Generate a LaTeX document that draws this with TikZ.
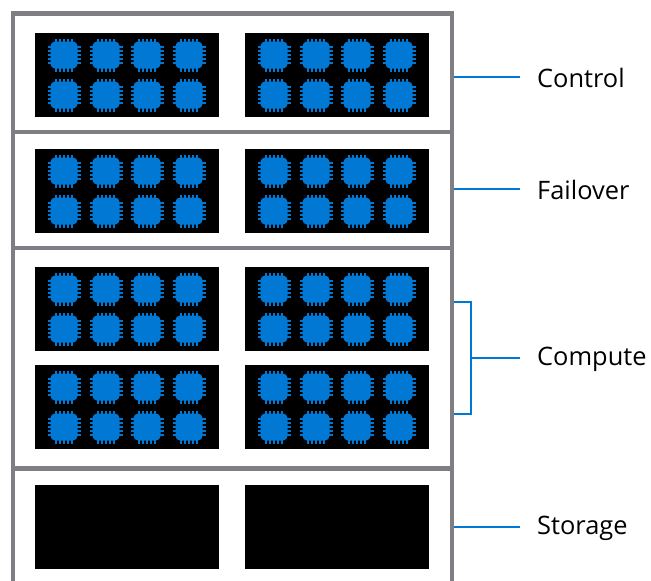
\documentclass[tikz,border=0pt]{standalone}
\usepackage{fontspec}
\setmainfont{Open Sans}
\definecolor{chipblue}{HTML}{0078D4}
\definecolor{framegray}{HTML}{7F7F83}
\tikzset{
  rackline/.style={draw=framegray,line width=4.4pt},
  tray/.style={fill=black,draw=none,minimum width=184pt,minimum height=84pt,inner sep=0pt,anchor=north west},
  leader/.style={draw=chipblue,line width=2pt},
  tag/.style={font=\fontsize{25.4pt}{30pt}\selectfont,anchor=west,inner sep=0pt,text=black},
  chip/.pic={
    \fill[chipblue,rounded corners=4.5pt] (-13.5,-13.5) rectangle (13.5,13.5);
    \foreach \p in {-8,-4,0,4,8}{
      \fill[chipblue] (\p-0.8,-16.5) rectangle (\p+0.8,16.5);
      \fill[chipblue] (-16.5,\p-0.8) rectangle (16.5,\p+0.8);
    }
  }
}
\newcommand{\traychips}[3]{%
  \node[tray] (#1) at (#2,#3) {};
  \foreach \dx in {29,71,112,154}\foreach \dy in {22,62}{
    \pic at (#2+\dx,#3+\dy) {chip};
  }%
}
\begin{document}
\begin{tikzpicture}[x=1pt,y=-1pt]
\useasboundingbox (0,0) rectangle (651,581);
\fill[white] (0,0) rectangle (651,581);
% rack
\coordinate (tl) at (13,13.5); \coordinate (tr) at (452,13.5);
\coordinate (bl) at (13,581); \coordinate (br) at (452,581);
\draw[rackline] (bl) -- (tl) -- (tr) -- (br);
\foreach \y in {132,248,468.5}{\draw[rackline] (13,\y) -- (452,\y);}
% trays
\foreach \n/\x in {a/35,b/245}{
  \traychips{c\n}{\x}{33}
  \traychips{f\n}{\x}{149}
  \traychips{p\n}{\x}{267}
  \traychips{q\n}{\x}{365}
  \node[tray] (s\n) at (\x,485) {};
}
% labels
\node[tag] (control) at (537,78) {Control};
\node[tag] (failover) at (537,190) {Failover};
\node[tag] (compute) at (537,359) {Compute};
\node[tag] (storage) at (537,528) {Storage};
% leaders
\coordinate (lc) at (454,77); \coordinate (lf) at (454,189);
\coordinate (ls) at (454,527);
\coordinate (b1) at (454,301.5); \coordinate (b2) at (454,414);
\coordinate (bt) at (471,301.5); \coordinate (bb) at (471,414);
\coordinate (bm) at (471,358); \coordinate (ec) at (520,77);
\coordinate (ef) at (520,189); \coordinate (em) at (520,358); \coordinate (es) at (520,527);
\draw[leader] (lc) -- (ec);
\draw[leader] (lf) -- (ef);
\draw[leader] (ls) -- (es);
\draw[leader] (b1) -- (bt) -- (bb) -- (b2);
\draw[leader] (bm) -- (em);
\end{tikzpicture}
\end{document}
